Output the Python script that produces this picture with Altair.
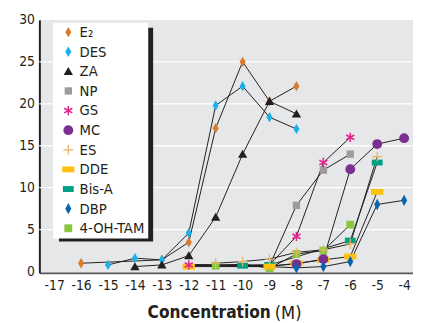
import math
import altair as alt
import pandas as pd

FONT = "DejaVu Sans Condensed, Liberation Sans Narrow, sans-serif"
INK = "#231f20"

# ---- series (legend order) ----
series = ["E₂", "DES", "ZA", "NP", "GS", "MC", "ES", "DDE", "Bis-A", "DBP", "4-OH-TAM"]
colors = ["#d97a2b", "#1db1ec", "#231f20", "#a09a9b", "#e2248f", "#7b2f8f",
          "#e6b566", "#fdc10f", "#00a083", "#0b63ad", "#8cc63f"]

# ---- values (x = log molar concentration) ----
e2_x = [-16, -13, -12, -11, -10, -9, -8]
e2_y = [1.0, 1.4, 3.5, 17.1, 25.0, 20.3, 22.1]
des_x = [-15, -14, -13, -12, -11, -10, -9, -8]
des_y = [0.8, 1.6, 1.4, 4.6, 19.8, 22.1, 18.4, 17.0]
za_x = [-14, -13, -12, -11, -10, -9, -8]
za_y = [0.6, 0.8, 1.9, 6.5, 14.0, 20.3, 18.8]
np_x = [-12, -9, -8, -7, -6]
np_y = [0.8, 0.7, 7.9, 12.1, 14.0]
np_m = [False, False, True, True, True]
gs_x = [-12, -9, -8, -7, -6]
gs_y = [0.8, 0.8, 4.2, 13.0, 16.0]
gs_m = [True, False, True, True, True]
mc_x = [-12, -9, -8, -7, -6, -5, -4]
mc_y = [0.8, 0.7, 0.9, 1.5, 12.2, 15.2, 15.9]
mc_m = [False, False, True, True, True, True, True]
es_x = [-11, -10, -9, -8, -7, -6, -5]
es_y = [1.0, 1.2, 1.5, 2.3, 2.6, 3.3, 13.7]
dde_x = [-12, -9, -8, -7, -6, -5]
dde_y = [0.6, 0.6, 1.0, 1.4, 1.8, 9.5]
bisa_x = [-12, -10, -9, -6, -5]
bisa_y = [0.8, 0.7, 0.8, 3.7, 13.0]
bisa_m = [False, True, True, True, True]
dbp_x = [-12, -9, -8, -7, -6, -5, -4]
dbp_y = [0.7, 0.6, 0.45, 0.6, 1.2, 8.0, 8.5]
dbp_m = [False, False, True, True, True, True, True]
tam_x = [-12, -11, -10, -9, -8, -7, -6]
tam_y = [0.8, 0.7, 0.9, 0.4, 2.1, 2.5, 5.6]
tam_m = [False, True, False, True, True, True, True]

x_ticks = list(range(-17, -3))
y_ticks = [0, 5, 10, 15, 20, 25, 30]
grid_vals = [5, 10, 15, 20, 25]

# drawing order, bottom to top
draw = [
    ("E₂", e2_x, e2_y, None), ("DES", des_x, des_y, None), ("ZA", za_x, za_y, None),
    ("4-OH-TAM", tam_x, tam_y, tam_m), ("Bis-A", bisa_x, bisa_y, bisa_m),
    ("ES", es_x, es_y, None), ("DDE", dde_x, dde_y, None), ("MC", mc_x, mc_y, mc_m),
    ("DBP", dbp_x, dbp_y, dbp_m), ("NP", np_x, np_y, np_m), ("GS", gs_x, gs_y, gs_m),
]
rows = []
for z, (name, xs, ys, ms) in enumerate(draw):
    for i, (xv, yv) in enumerate(zip(xs, ys)):
        rows.append({"series": name, "x": xv, "y": yv,
                     "marker": True if ms is None else ms[i], "z": z})
df = pd.DataFrame(rows)


# ---- marker shapes (unit paths) ----
def bars(angles, hl, hw):
    out = []
    for a in angles:
        t = math.radians(a)
        d = (math.cos(t) * hl, math.sin(t) * hl)
        n = (-math.sin(t) * hw, math.cos(t) * hw)
        pts = [(-d[0] - n[0], -d[1] - n[1]), (d[0] - n[0], d[1] - n[1]),
               (d[0] + n[0], d[1] + n[1]), (-d[0] + n[0], -d[1] + n[1])]
        out.append("M" + "L".join(f"{p[0]:.3f},{p[1]:.3f}" for p in pts) + "Z")
    return "".join(out)


def rect(w, h):
    return f"M{-w},{-h}L{w},{-h}L{w},{h}L{-w},{h}Z"


shapes = [
    "M0,-1.05L0.62,0L0,1.05L-0.62,0Z",      # E2 diamond
    "M0,-1.05L0.62,0L0,1.05L-0.62,0Z",      # DES diamond
    "M0,-0.9L0.95,0.75L-0.95,0.75Z",        # ZA triangle
    rect(0.75, 0.75),                        # NP square
    bars([90, 30, -30], 0.95, 0.16),         # GS asterisk
    "circle",                                # MC
    bars([0, 90], 1.0, 0.13),                # ES plus
    rect(1.25, 0.6),                         # DDE
    rect(1.1, 0.6),                          # Bis-A
    "M0,-1.15L0.62,0L0,1.15L-0.62,0Z",      # DBP diamond
    rect(0.8, 0.8),                          # 4-OH-TAM
]

W, H = 381, 258
xscale = alt.Scale(domain=[-17.55, -3.67], nice=False, zero=False)
yscale = alt.Scale(domain=[-0.15, 30], nice=False, zero=False)

xax = alt.Axis(values=x_ticks, title=None, grid=False, ticks=False, tickSize=0,
               labelPadding=6, domainColor="#58595b", domainWidth=2,
               labelOverlap=False, labelExpr="'-' + abs(datum.value)",
               labelFont=FONT, labelFontSize=14, labelColor=INK, labelFlush=False)
yax = alt.Axis(values=y_ticks, title=None, grid=False, ticks=False, tickSize=0,
               labelPadding=5, domainColor=INK, domainWidth=2, labelOverlap=False,
               labelFont=FONT, labelFontSize=14, labelColor=INK)

base = alt.Chart(df)

grid = alt.Chart(pd.DataFrame({"g": grid_vals})).mark_rule(
    color="white", strokeWidth=1.3).encode(y=alt.Y("g:Q", scale=yscale, axis=yax))

lines = base.mark_line(color=INK, strokeWidth=1).encode(
    x=alt.X("x:Q", scale=xscale, axis=xax),
    y=alt.Y("y:Q", scale=yscale, axis=yax),
    detail="series:N",
    order="x:Q",
)

points = base.transform_filter("datum.marker").mark_point(
    filled=True, opacity=1, size=100, strokeWidth=0).encode(
    x=alt.X("x:Q", scale=xscale, axis=xax),
    y=alt.Y("y:Q", scale=yscale, axis=yax),
    color=alt.Color("series:N", scale=alt.Scale(domain=series, range=colors),
                    legend=alt.Legend(title=None)),
    shape=alt.Shape("series:N", scale=alt.Scale(domain=series, range=shapes),
                    legend=alt.Legend(title=None)),
    order=alt.Order("z:Q"),
)

one = pd.DataFrame({"k": [0]})
shadow = alt.Chart(one).mark_rect(color=INK).encode(
    x=alt.value(20), x2=alt.value(116), y=alt.value(8), y2=alt.value(226))
box = alt.Chart(one).mark_rect(color="white").encode(
    x=alt.value(14), x2=alt.value(111), y=alt.value(3), y2=alt.value(223))

title_a = alt.Chart(pd.DataFrame({"t": ["Concentration"]})).mark_text(
    font=FONT, fontSize=17.5, fontWeight="bold", color=INK, align="right",
    baseline="middle").encode(x=alt.value(236), y=alt.value(299), text="t:N")
title_b = alt.Chart(pd.DataFrame({"t": ["(M)"]})).mark_text(
    font=FONT, fontSize=18.5, color=INK, align="left",
    baseline="middle").encode(x=alt.value(240), y=alt.value(299), text="t:N")

chart = alt.layer(grid, shadow, box, lines, points, title_a, title_b).properties(
    width=W, height=H,
    autosize=alt.AutoSizeParams(type="none"),
    padding={"left": 32, "top": 9, "right": 0, "bottom": 48},
).configure_view(fill="#e6e7e8", stroke=None).configure_legend(
    orient="none", legendX=22, legendY=5, padding=0, rowPadding=4,
    labelFont=FONT, labelFontSize=15, labelColor=INK, labelOffset=4,
    symbolSize=100, symbolStrokeWidth=0, symbolOpacity=1,
)

chart.save("out.html", embed_options={"renderer": "svg", "actions": False})
